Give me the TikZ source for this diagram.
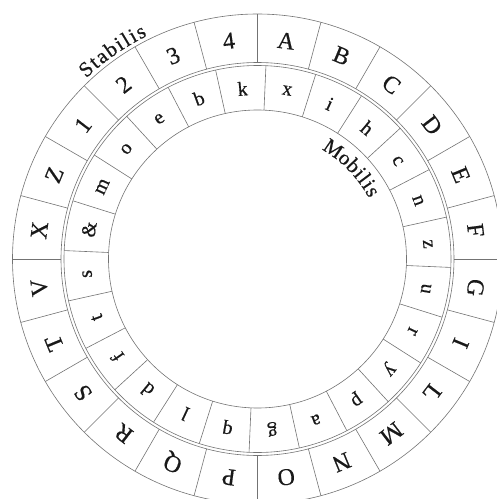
\documentclass[tikz,border=0pt]{standalone}
\usepackage{fontspec}
\setmainfont{Liberation Serif}
\newfontfamily\diskfont{Liberation Serif}[FakeBold=0.5]
\begin{document}
\begin{tikzpicture}[x=1pt,y=1pt,
  ring/.style={draw=black!55, line width=0.6pt},
  outerlet/.style={font=\diskfont\fontsize{24}{24}\selectfont, text=black!90, inner sep=0pt},
  innerlet/.style={font=\diskfont\fontsize{20}{20}\selectfont, text=black!90, inner sep=0pt},
  caption/.style={font=\diskfont\fontsize{21}{21}\selectfont, text=black!90, inner sep=0pt, anchor=base}]
\useasboundingbox (-257.5,-240) rectangle (239.5,259);
\clip (-257.5,-240) rectangle (239.5,259);
% rings
\draw[ring] (0,0) circle (245);
\draw[ring] (0,0) circle (196.5);
\draw[ring] (0,0) circle (193.5);
\draw[ring] (0,0) circle (149);
% cell borders
\foreach \a in {0,15,...,345} \draw[ring] (\a:196.5) -- (\a:245);
\foreach \a in {0,15,...,345} \draw[ring] ({\a-2.5}:149) -- ({\a-2.5}:193.5);
% outer (stabilis) letters
\foreach \l [count=\i from 0] in {A,B,C,D,E,F,G,I,L,M,N,O,P,Q,R,S,T,V,X,Z,1,2,3,4}
  \node[outerlet, rotate={82.5-15*\i-90}] (out\i) at ({82.5-15*\i}:220) {\l};
% inner (mobilis) letters
\foreach \l [count=\i from 0] in {x,i,h,c,n,z,u,r,y,p,a,g,q,l,d,f,t,s,\&,m,o,e,b,k}
  \node[innerlet, rotate={80-15*\i-90}] (in\i) at ({80-15*\i}:171) {\l};
% captions
\foreach \c/\t [count=\i] in {S/132.1, t/129.73, a/127.6, b/125.0, i/122.76, l/120.98, i/119.21, s/117.2}
  \node[caption, rotate={\t-90}] (stab\i) at (\t:249) {\c};
\foreach \c/\t [count=\i] in {M/55.5, o/48.96, b/44.03, i/40.02, l/36.94, i/33.85, s/30.3}
  \node[caption, rotate={\t-90}] (mob\i) at (\t:127) {\c};
\end{tikzpicture}
\end{document}
